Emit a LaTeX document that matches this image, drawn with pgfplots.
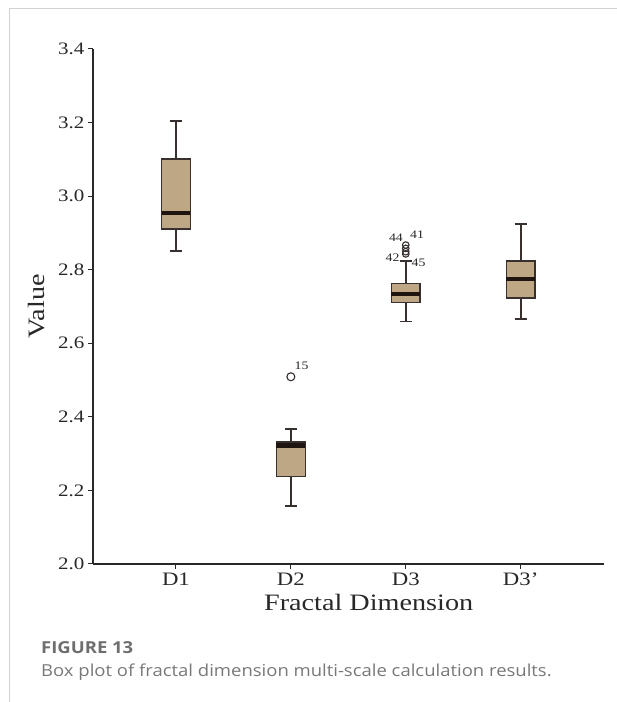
\documentclass[border=0pt]{standalone}
\usepackage{fontspec}
\setmainfont{Liberation Serif}[FakeStretch=1.2]
\newfontfamily\capfont{Open Sans}[FakeStretch=1.12]
\usepackage{pgfplots}
\usepgfplotslibrary{statistics}
\pgfplotsset{compat=1.18}
\definecolor{boxfill}{RGB}{189,167,133}
\definecolor{boxline}{RGB}{55,48,46}
\definecolor{medcol}{RGB}{30,20,16}
\definecolor{axcol}{RGB}{40,40,40}
\definecolor{capgray}{RGB}{110,110,110}
\definecolor{captext}{RGB}{120,120,120}
\begin{document}
\begin{tikzpicture}[x=1pt,y=1pt]
\path[use as bounding box] (0,0) rectangle (617,702);
\draw[gray!35, line width=1pt] (9,0) -- (9,693) -- (617,693);
\begin{axis}[
  at={(93pt,138pt)}, anchor=south west,
  scale only axis, width=511.3pt, height=515pt,
  xmin=0.278, xmax=4.728, ymin=2.0, ymax=3.4,
  axis x line*=bottom, axis y line*=left,
  axis line style={-, axcol, line width=1.2pt},
  tick style={axcol, line width=1pt},
  tick align=outside, major tick length=5pt,
  xtick={1,2,3,4}, xticklabels={D1,D2,D3,D3’},
  ytick={2.0,2.2,2.4,2.6,2.8,3.0,3.2,3.4},
  /pgf/number format/assume math mode=true,
  yticklabel style={/pgf/number format/fixed, /pgf/number format/fixed zerofill, /pgf/number format/precision=1, font=\fontsize{17.5}{17.5}\selectfont, text=axcol},
  xticklabel style={font=\fontsize{19}{19}\selectfont, text=axcol},
  xlabel={Fractal Dimension}, ylabel={Value},
  every axis x label/.style={font=\fontsize{23.5}{23.5}\selectfont, text=axcol, at={(axis description cs:0.5,0)}, anchor=base, xshift=20pt, yshift=-46pt},
  every axis y label/.style={font=\fontsize{23.5}{23.5}\selectfont, text=axcol, at={(axis description cs:0,0.5)}, xshift=-56.5pt, rotate=90, anchor=center},
  boxplot/draw direction=y,
  boxplot/box extend=0.25,
  boxplot/whisker extend=0.105,
  boxplot/every box/.style={fill=boxfill, draw=boxline, line width=1.3pt},
  boxplot/every whisker/.style={draw=boxline, line width=1.7pt},
  boxplot/every median/.style={draw=medcol, line width=4.2pt},
  clip=false,
]
\addplot[boxplot prepared={draw position=1, lower whisker=2.851, lower quartile=2.911, median=2.955, upper quartile=3.101, upper whisker=3.204}] coordinates {};
\addplot[boxplot prepared={draw position=2, lower whisker=2.158, lower quartile=2.237, median=2.322, upper quartile=2.332, upper whisker=2.367}] coordinates {};
\addplot[boxplot prepared={draw position=3, lower whisker=2.659, lower quartile=2.711, median=2.734, upper quartile=2.762, upper whisker=2.824}] coordinates {};
\addplot[boxplot prepared={draw position=4, lower whisker=2.666, lower quartile=2.723, median=2.775, upper quartile=2.824, upper whisker=2.924}] coordinates {};
\addplot[only marks, mark=o, mark size=4pt, mark options={draw=boxline, line width=1.1pt}] coordinates {(2,2.509)};
\addplot[only marks, mark=o, mark size=3.3pt, mark options={draw=boxline, line width=1.1pt}] coordinates {(3,2.867) (3,2.858) (3,2.849) (3,2.843)};
\node[font=\fontsize{11.5}{11.5}\selectfont, text=axcol, inner sep=0pt] at (axis cs:2.093,2.538) {15};
\node[font=\fontsize{11.5}{11.5}\selectfont, text=axcol, inner sep=0pt] at (axis cs:2.915,2.886) {44};
\node[font=\fontsize{11.5}{11.5}\selectfont, text=axcol, inner sep=0pt] at (axis cs:3.098,2.894) {41};
\node[font=\fontsize{11.5}{11.5}\selectfont, text=axcol, inner sep=0pt] at (axis cs:2.885,2.832) {42};
\node[font=\fontsize{11.5}{11.5}\selectfont, text=axcol, inner sep=0pt] at (axis cs:3.111,2.819) {45};
\end{axis}
\node[anchor=base west, inner sep=0pt, font=\capfont\bfseries\fontsize{16.5}{16.5}\selectfont, text=capgray] at (41,48.5) {FIGURE 13};
\node[anchor=base west, inner sep=0pt, font=\capfont\fontsize{16.5}{16.5}\selectfont, text=captext] at (41,25) {Box plot of fractal dimension multi-scale calculation results.};
\end{tikzpicture}
\end{document}
